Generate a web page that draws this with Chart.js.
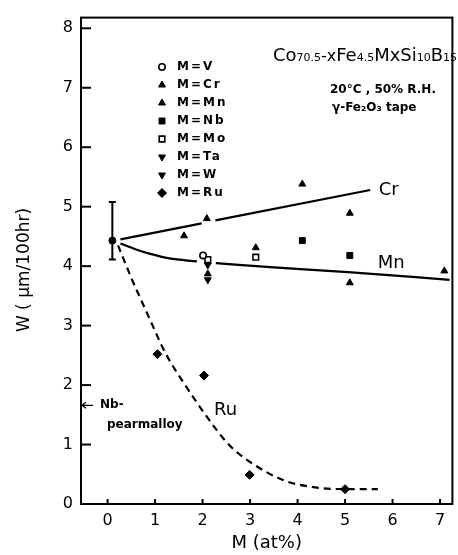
<!DOCTYPE html>
<html><head><meta charset="utf-8">
<script src="https://cdn.jsdelivr.net/npm/chart.js@4.4.0/dist/chart.umd.min.js"></script>
<style>html,body{margin:0;padding:0;background:#fff}canvas{display:block}</style>
</head><body>
<canvas id="c" width="458" height="555"></canvas>
<script>
// ---- tick labels ----
const xTicks = [0,1,2,3,4,5,6,7];
const yTicks = [0,1,2,3,4,5,6,7,8];
// ---- base alloy (x=0) with error bar ----
const baseX = [0.10], baseY = [4.43], errLow = [4.11], errHigh = [5.08];
// ---- measured points ----
const vX  = [2.01], vY = [4.18];
const crX = [1.61, 2.09, 4.10, 5.10], crY = [4.51, 4.80, 5.38, 4.89];
const mnX = [2.11, 3.12, 5.10, 7.09], mnY = [3.87, 4.31, 3.72, 3.92];
const nbX = [4.10, 5.10], nbY = [4.43, 4.18];
const moX = [2.11, 3.12], moY = [4.11, 4.15];
const taX = [2.11], taY = [4.02];
const wX  = [2.11], wY = [3.77];
const ruX = [1.05, 2.03, 2.99, 5.00], ruY = [2.52, 2.16, 0.49, 0.25];
// ---- drawn trend curves ----
const crLineX = [0.27, 1.98, 2.10, 2.27, 5.53], crLineY = [4.45, 4.72, null, 4.77, 5.28];
const mnLineX = [0.27, 0.60, 0.88, 1.30, 1.88, 2.10, 2.28, 3.50, 5.06, 7.20];
const mnLineY = [4.38, 4.28, 4.21, 4.13, 4.08, null, 4.05, 3.98, 3.90, 3.77];
const ruLineX = [0.22, 0.50, 0.82, 1.23, 1.65, 2.07, 2.55, 3.03, 3.74, 4.37, 5.00, 5.69];
const ruLineY = [4.35, 3.80, 3.23, 2.52, 1.98, 1.49, 1.00, 0.69, 0.39, 0.28, 0.25, 0.25];
// ---- reference level ----
const nbPermalloy = 1.66;
const legendLabels = ['M=V','M=Cr','M=Mn','M=Nb','M=Mo','M=Ta','M=W','M=Ru'];

const pts = (xs, ys) => xs.map((x, i) => ({x: x, y: ys[i]}));
const FONT = "'DejaVu Sans', 'Liberation Sans', sans-serif";

function mk(label, xs, ys, style, open, radius, rotation) {
  return {
    label: label, data: pts(xs, ys), showLine: false,
    pointStyle: style, pointRotation: rotation || 0, pointRadius: radius,
    backgroundColor: open ? '#fff' : '#000', borderColor: '#000',
    pointBorderWidth: open ? 1.6 : 1, borderWidth: open ? 1.6 : 1
  };
}
const markerSets = [
  mk('M=V',  vX,  vY,  'circle',   true,  3.2),
  mk('M=Cr', crX, crY, 'triangle', false, 4),
  mk('M=Mn', mnX, mnY, 'triangle', false, 4),
  mk('M=Nb', nbX, nbY, 'rect',     false, 4.2),
  mk('M=Mo', moX, moY, 'rect',     true,  4),
  mk('M=Ta', taX, taY, 'triangle', false, 4, 180),
  mk('M=W',  wX,  wY,  'triangle', false, 4, 180),
  mk('M=Ru', ruX, ruY, 'rectRot',  false, 4.5),
];
const baseSet = mk('base', baseX, baseY, 'circle', false, 3.5);
function lineSet(xs, ys, dash) {
  return { label: '', data: pts(xs, ys), showLine: true, pointRadius: 0,
    borderColor: '#000', borderWidth: 2.2, borderDash: dash || [],
    cubicInterpolationMode: 'monotone', spanGaps: false, fill: false };
}
const lines = [lineSet(crLineX, crLineY), lineSet(mnLineX, mnLineY), lineSet(ruLineX, ruLineY, [7,5])];

const decor = {
  id: 'decor',
  afterDatasetsDraw(chart) {
    const ctx = chart.ctx, xs = chart.scales.x, ys = chart.scales.y, a = chart.chartArea;
    ctx.save();
    ctx.strokeStyle = '#000'; ctx.fillStyle = '#000';
    // frame
    ctx.lineWidth = 2;
    ctx.strokeRect(a.left, a.top, a.right - a.left, a.bottom - a.top);
    // inside ticks
    ctx.lineWidth = 2;
    yTicks.forEach(v => { const py = ys.getPixelForValue(v);
      ctx.beginPath(); ctx.moveTo(a.left, py); ctx.lineTo(a.left + 10, py); ctx.stroke(); });
    xTicks.forEach(v => { const px = xs.getPixelForValue(v);
      ctx.beginPath(); ctx.moveTo(px, a.bottom); ctx.lineTo(px, a.bottom - 5); ctx.stroke(); });
    // error bar
    baseX.forEach((bx, i) => {
      const px = xs.getPixelForValue(bx), p1 = ys.getPixelForValue(errLow[i]), p2 = ys.getPixelForValue(errHigh[i]);
      ctx.lineWidth = 2;
      ctx.beginPath(); ctx.moveTo(px, p1); ctx.lineTo(px, p2);
      ctx.moveTo(px - 3.5, p1); ctx.lineTo(px + 3.5, p1);
      ctx.moveTo(px - 3.5, p2); ctx.lineTo(px + 3.5, p2); ctx.stroke();
    });
    // Nb-permalloy arrow
    const ay = ys.getPixelForValue(nbPermalloy);
    ctx.lineWidth = 1.3;
    ctx.beginPath(); ctx.moveTo(a.left + 1, ay); ctx.lineTo(a.left + 12, ay);
    ctx.moveTo(a.left + 5, ay - 3); ctx.lineTo(a.left + 1, ay); ctx.lineTo(a.left + 5, ay + 3); ctx.stroke();
    ctx.textBaseline = 'middle'; ctx.textAlign = 'left';
    ctx.font = 'bold 12px ' + FONT;
    ctx.fillText('Nb-', a.left + 19, ay);
    ctx.fillText('pearmalloy', a.left + 26, ay + 20);
    // curve labels
    ctx.font = '18px ' + FONT;
    ctx.fillText('Cr', xs.getPixelForValue(5.71), ys.getPixelForValue(5.28));
    ctx.fillText('Mn', xs.getPixelForValue(5.69), ys.getPixelForValue(4.05));
    ctx.fillText('Ru', xs.getPixelForValue(2.24), ys.getPixelForValue(1.57));
    // legend
    ctx.font = 'bold 12px ' + FONT;
    try { ctx.letterSpacing = '2px'; } catch (e) {}
    const H = Chart.helpers;
    markerSets.forEach((ds, i) => {
      const ly = 67 + i * 18, lx = 162;
      ctx.fillStyle = ds.backgroundColor; ctx.strokeStyle = '#000'; ctx.lineWidth = ds.pointBorderWidth;
      H.drawPoint(ctx, {pointStyle: ds.pointStyle, rotation: ds.pointRotation, radius: ds.pointRadius, borderWidth: ds.pointBorderWidth}, lx, ly);
      ctx.fillStyle = '#000';
      ctx.fillText(legendLabels[i], 177, ly);
    });
    try { ctx.letterSpacing = '0px'; } catch (e) {}
    // formula
    const parts = [['Co',18],['70.5',11],['-x',16],['Fe',18],['4.5',11],['MxSi',18],['10',11],['B',18],['15',11]];
    let w = 0;
    parts.forEach(p => { ctx.font = p[1] + 'px ' + FONT; w += ctx.measureText(p[0]).width; });
    const sx = Math.min(1, 184 / w);
    ctx.save(); ctx.translate(273, 61); ctx.scale(sx, 1);
    ctx.textBaseline = 'alphabetic'; let cx = 0;
    parts.forEach(p => { ctx.font = p[1] + 'px ' + FONT; ctx.fillText(p[0], cx, 0); cx += ctx.measureText(p[0]).width; });
    ctx.restore();
    ctx.font = 'bold 12px ' + FONT; ctx.textBaseline = 'middle';
    ctx.fillText('20°C , 50% R.H.', 330, 90);
    ctx.fillText('γ-Fe₂O₃ tape', 332, 108);
    // y title
    ctx.save(); ctx.translate(25, 270); ctx.rotate(-Math.PI / 2);
    ctx.textAlign = 'center'; ctx.font = '17px ' + FONT;
    ctx.fillText('W ( µm/100hr)', 0, 0);
    ctx.restore();
    ctx.restore();
  }
};

new Chart(document.getElementById('c'), {
  type: 'scatter',
  data: { datasets: [...markerSets, baseSet, ...lines] },
  options: {
    responsive: false, animation: false, devicePixelRatio: 1,
    layout: { padding: { top: 6, right: 3, left: 0, bottom: 0 } },
    plugins: { legend: { display: false }, tooltip: { enabled: false } },
    scales: {
      x: { type: 'linear', min: -0.56, max: 7.26,
        afterBuildTicks: s => { s.ticks = xTicks.map(v => ({value: v})); },
        afterFit: s => { s.height = 51; },
        grid: { display: false, drawTicks: false }, border: { display: false },
        ticks: { color: '#000', padding: 7, font: { size: 16, family: FONT } },
        title: { display: true, text: 'M (at%)', color: '#000', font: { size: 18, family: FONT }, padding: { top: 0, bottom: 1 } } },
      y: { type: 'linear', min: 0, max: 8.18,
        afterBuildTicks: s => { s.ticks = yTicks.map(v => ({value: v})); },
        afterFit: s => { s.width = 81; },
        grid: { display: false, drawTicks: false }, border: { display: false },
        ticks: { color: '#000', padding: 8, font: { size: 16, family: FONT } } }
    }
  },
  plugins: [decor]
});
</script>
</body></html>
